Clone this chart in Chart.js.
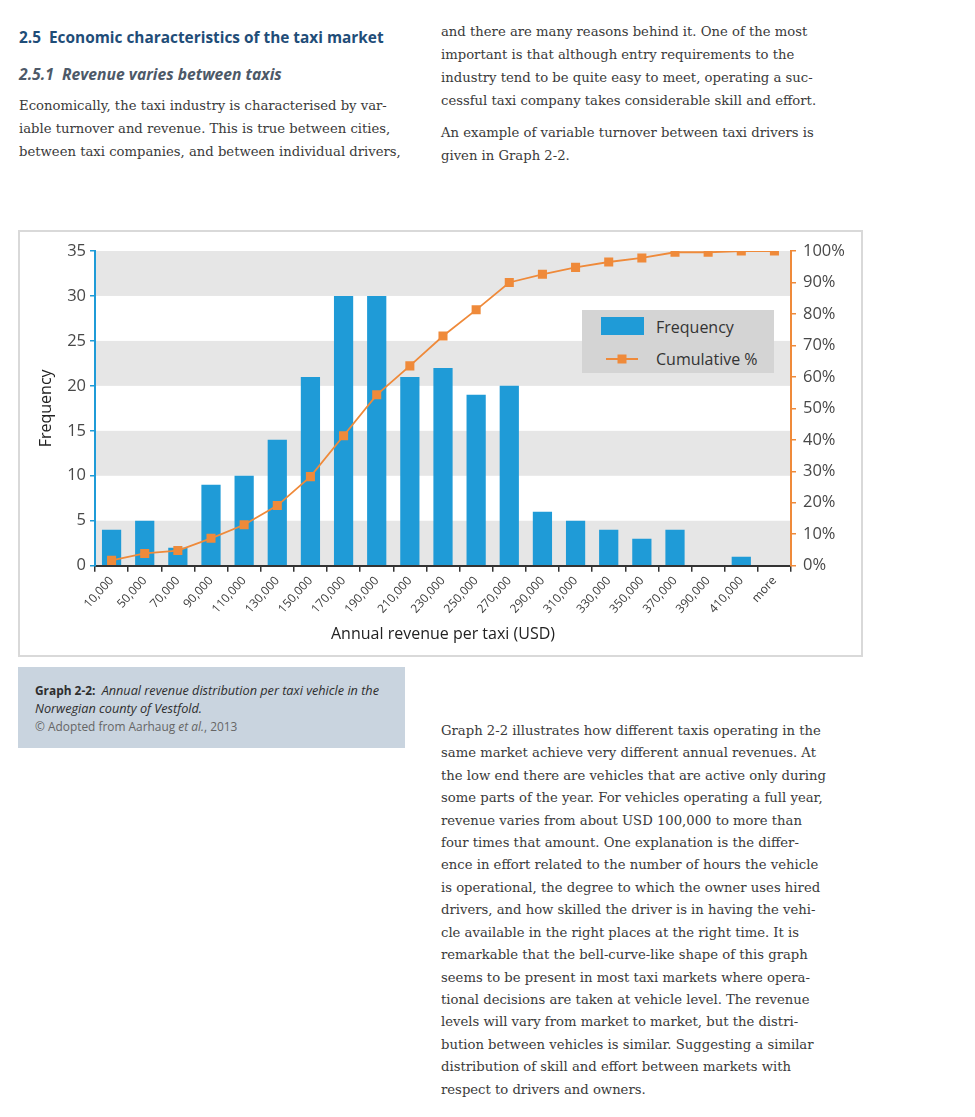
<!DOCTYPE html>
<html>
<head>
<meta charset="utf-8">
<script src="https://cdn.jsdelivr.net/npm/chart.js@4.4.1/dist/chart.umd.min.js"></script>
<style>
  html, body { margin: 0; padding: 0; background: #fff; }
  body { width: 975px; height: 1117px; position: relative; overflow: hidden;
         font-family: "DejaVu Serif", serif; color: #3a3a3a; }
  .abs { position: absolute; }
  .ln  { white-space: nowrap; }
  .body-txt { font-size: 13.2px; line-height: 23px; }
  h1, h2 { margin: 0; font-family: "Open Sans", sans-serif; white-space: nowrap; }
  h1 { color: #1f4d78; font-weight: 700; font-size: 15.4px; line-height: 20px; }
  h2 { color: #4d5968; font-weight: 700; font-style: italic; font-size: 15.7px; line-height: 20px; }
  #chartBox { left: 18px; top: 230px; width: 845px; height: 427px; box-sizing: border-box;
              border: 2px solid #d9d9d9; }
  #chartBox canvas { position: absolute; left: 0; top: 0; }
  #legend { left: 582px; top: 310px; width: 192px; height: 63px; background: #d4d4d4;
            font-family: "Open Sans", sans-serif; font-size: 16px; color: #333; }
  #legend .item { position: absolute; left: 74px; white-space: nowrap; line-height: 20px; }
  #caption { left: 18px; top: 667px; width: 387px; height: 81px; background: #c9d4df;
             font-family: "Open Sans", sans-serif; font-size: 11.9px; color: #2e2e2e; line-height: 18px; }
  #caption i.cap { font-size: 12.7px; }
</style>
</head>
<body>

<h1 class="abs" style="left:19px; top:28px;">2.5&nbsp;&nbsp;Economic characteristics of the taxi market</h1>
<h2 class="abs" style="left:19px; top:64px;">2.5.1&nbsp;&nbsp;Revenue varies between taxis</h2>

<div class="abs body-txt" style="left:19px; top:93.5px;">
  <div class="ln">Economically, the taxi industry is characterised by var-</div>
  <div class="ln">iable turnover and revenue. This is true between cities,</div>
  <div class="ln">between taxi companies, and between individual drivers,</div>
</div>

<div class="abs body-txt" style="left:441px; top:19.5px;">
  <div class="ln">and there are many reasons behind it. One of the most</div>
  <div class="ln">important is that although entry requirements to the</div>
  <div class="ln">industry tend to be quite easy to meet, operating a suc-</div>
  <div class="ln">cessful taxi company takes considerable skill and effort.</div>
</div>
<div class="abs body-txt" style="left:441px; top:120.5px;">
  <div class="ln">An example of variable turnover between taxi drivers is</div>
  <div class="ln">given in Graph 2-2.</div>
</div>

<div id="chartBox" class="abs">
  <canvas id="chart" width="841" height="423"></canvas>
</div>

<div id="legend" class="abs">
  <svg class="abs" style="left:0; top:0;" width="192" height="63">
    <rect x="19" y="7" width="43" height="18" fill="#1f9bd7"></rect>
    <line x1="24" y1="49" x2="56" y2="49" stroke="#ef8a3a" stroke-width="2"></line>
    <rect x="35.5" y="44.5" width="9" height="9" fill="#ef8a3a"></rect>
  </svg>
  <div class="item" style="top:7px;">Frequency</div>
  <div class="item" style="top:39px;">Cumulative %</div>
</div>

<div id="caption" class="abs">
  <div class="abs ln" style="left:17px; top:14px;"><b>Graph 2-2:</b>&nbsp;&nbsp;<i class="cap">Annual revenue distribution per taxi vehicle in the</i></div>
  <div class="abs ln" style="left:17px; top:32px;"><i class="cap">Norwegian county of Vestfold.</i></div>
  <div class="abs ln" style="left:17px; top:50px; color:#666;">© Adopted from Aarhaug <i>et al.</i>, 2013</div>
</div>

<div class="abs body-txt" style="left:441px; top:719.8px; line-height:22.44px;">
  <div class="ln">Graph 2-2 illustrates how different taxis operating in the</div>
  <div class="ln">same market achieve very different annual revenues. At</div>
  <div class="ln">the low end there are vehicles that are active only during</div>
  <div class="ln">some parts of the year. For vehicles operating a full year,</div>
  <div class="ln">revenue varies from about USD 100,000 to more than</div>
  <div class="ln">four times that amount. One explanation is the differ-</div>
  <div class="ln">ence in effort related to the number of hours the vehicle</div>
  <div class="ln">is operational, the degree to which the owner uses hired</div>
  <div class="ln">drivers, and how skilled the driver is in having the vehi-</div>
  <div class="ln">cle available in the right places at the right time. It is</div>
  <div class="ln">remarkable that the bell-curve-like shape of this graph</div>
  <div class="ln">seems to be present in most taxi markets where opera-</div>
  <div class="ln">tional decisions are taken at vehicle level. The revenue</div>
  <div class="ln">levels will vary from market to market, but the distri-</div>
  <div class="ln">bution between vehicles is similar. Suggesting a similar</div>
  <div class="ln">distribution of skill and effort between markets with</div>
  <div class="ln">respect to drivers and owners.</div>
</div>

<script>
const revenueBins = ['10,000', '50,000', '70,000', '90,000', '110,000', '130,000', '150,000',
  '170,000', '190,000', '210,000', '230,000', '250,000', '270,000', '290,000', '310,000',
  '330,000', '350,000', '370,000', '390,000', '410,000', 'more'];
const frequency = [4, 5, 2, 9, 10, 14, 21, 30, 30, 21, 22, 19, 20, 6, 5, 4, 3, 4, 0, 1, 0];
const cumulativePct = [1.7, 3.9, 4.8, 8.7, 13.0, 19.1, 28.3, 41.3, 54.3, 63.5, 73.0, 81.3,
  90.0, 92.6, 94.8, 96.5, 97.8, 99.6, 99.6, 100, 100];
const freqTicks = [0, 35, 5];   // min, max, step
const pctTicks  = [0, 100, 10];

// colours
const BLUE   = '#1f9bd7';
const ORANGE = '#ef8a3a';
const BAND   = '#e6e6e6';
const TXT    = '#484848';

Chart.defaults.font.family = "'Open Sans', sans-serif";
Chart.defaults.color = TXT;

// grey horizontal bands behind the bars (0-5, 10-15, 20-25, 30-35)
const bandPlugin = {
  id: 'bands',
  beforeDraw(chart) {
    const { ctx, chartArea, scales: { y } } = chart;
    ctx.save();
    ctx.fillStyle = BAND;
    for (let v = freqTicks[0]; v < freqTicks[1]; v += 2 * freqTicks[2]) {
      const top = y.getPixelForValue(v + freqTicks[2]);
      const bot = y.getPixelForValue(v);
      ctx.fillRect(chartArea.left, top, chartArea.right - chartArea.left, bot - top);
    }
    ctx.restore();
  }
};

new Chart(document.getElementById('chart'), {
  data: {
    labels: revenueBins,
    datasets: [
      {
        type: 'line',
        label: 'Cumulative %',
        data: cumulativePct,
        yAxisID: 'y1',
        order: 1,
        borderColor: ORANGE,
        borderWidth: 1.8,
        tension: 0,
        pointStyle: 'rect',
        pointRadius: 6.4,
        pointBorderWidth: 0,
        pointBackgroundColor: ORANGE
      },
      {
        type: 'bar',
        label: 'Frequency',
        data: frequency,
        yAxisID: 'y',
        order: 2,
        backgroundColor: BLUE,
        barPercentage: 0.58,
        categoryPercentage: 1
      }
    ]
  },
  options: {
    responsive: false,
    animation: false,
    layout: { padding: { top: 19, right: 0, bottom: 0, left: 0 } },
    plugins: { legend: { display: false }, tooltip: { enabled: false } },
    scales: {
      x: {
        grid: { drawOnChartArea: false, tickLength: 6, color: '#333', lineWidth: 1.5, offset: true },
        border: { color: '#333', width: 2 },
        ticks: { minRotation: 48, maxRotation: 48, autoSkip: false, padding: 2,
                 font: { size: 12 }, color: '#3c3c3c' },
        title: { display: true, text: 'Annual revenue per taxi (USD)', color: '#222',
                 font: { size: 16 }, padding: { top: 0, bottom: 11.4 } },
        afterFit: s => { s.height = 89.3; }
      },
      y: {
        position: 'left',
        min: freqTicks[0], max: freqTicks[1],
        ticks: { stepSize: freqTicks[2], padding: 4, font: { size: 16.5 }, color: TXT },
        grid: { drawOnChartArea: false, tickLength: 5, color: BLUE, lineWidth: 1.5 },
        border: { color: BLUE, width: 2 },
        title: { display: true, text: 'Frequency', color: '#222',
                 font: { size: 16 }, padding: { top: 16.7, bottom: 0 } },
        afterFit: s => { s.width = 75; }
      },
      y1: {
        position: 'right',
        min: pctTicks[0], max: pctTicks[1],
        ticks: { stepSize: pctTicks[2], padding: 7, font: { size: 16.5 }, color: TXT,
                 callback: v => v + '%' },
        grid: { drawOnChartArea: false, tickLength: 5, color: ORANGE, lineWidth: 1.5 },
        border: { color: ORANGE, width: 2 },
        afterFit: s => { s.width = 70; }
      }
    }
  },
  plugins: [bandPlugin]
});
</script>
</body>
</html>
